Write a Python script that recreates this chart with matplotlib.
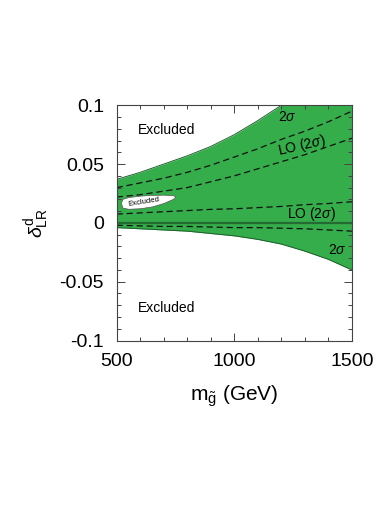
import numpy as np
import matplotlib
matplotlib.use("Agg")
from matplotlib import pyplot as plt
from matplotlib.ticker import MultipleLocator

plt.rcParams['font.family'] = ['Liberation Sans', 'DejaVu Sans']
plt.rcParams['mathtext.fontset'] = 'custom'
plt.rcParams['mathtext.rm'] = 'Liberation Sans'
plt.rcParams['mathtext.it'] = 'Liberation Sans:italic'

# gluino mass (GeV)
m_gluino = [500, 600, 700, 800, 900, 1000, 1100, 1200, 1300, 1400, 1500]

# 2 sigma allowed band
upper_2sig = [0.037, 0.043, 0.050, 0.057, 0.065, 0.075, 0.087, 0.100, 0.114, 0.129, 0.145]
lower_2sig = [-0.004, -0.005, -0.006, -0.007, -0.009, -0.011, -0.014, -0.018, -0.024, -0.031, -0.040]

# LO (2 sigma) dashed curves
lo_a = [0.030, 0.034, 0.038, 0.043, 0.049, 0.056, 0.063, 0.071, 0.078, 0.086, 0.095]
lo_b = [0.022, 0.024, 0.027, 0.030, 0.035, 0.040, 0.046, 0.052, 0.058, 0.065, 0.072]
lo_c = [0.0075, 0.0085, 0.0095, 0.0105, 0.0115, 0.012, 0.013, 0.014, 0.0155, 0.0165, 0.018]
lo_d = [-0.002, -0.0025, -0.003, -0.003, -0.0035, -0.004, -0.004, -0.0045, -0.005, -0.006, -0.007]

# small excluded island
island_m = [518, 525, 550, 600, 650, 700, 740, 750]
island_top = [0.017, 0.0205, 0.022, 0.0232, 0.0238, 0.024, 0.0235, 0.0225]
island_bot = [0.017, 0.0130, 0.0120, 0.0125, 0.0140, 0.0170, 0.0205, 0.0225]

yticks = [-0.1, -0.05, 0, 0.05, 0.1]
ytick_labels = ['-0.1', '-0.05', '0', '0.05', '0.1']
xticks = [500, 1000, 1500]

green = '#35ad4a'

fig = plt.figure(figsize=(3.9, 5.05), dpi=100)
ax = fig.add_axes([0.299, 0.3257, 0.6033, 0.4658])

ax.fill_between(m_gluino, lower_2sig, upper_2sig, color=green, lw=0)
ax.plot(m_gluino, upper_2sig, color='#1d5f2b', lw=0.7)
ax.plot(m_gluino, lower_2sig, color='#1d5f2b', lw=0.7)
ax.axhline(0, color='#236b33', lw=1.6)

for curve in [lo_a, lo_b, lo_c, lo_d]:
    ax.plot(m_gluino, curve, color='#111111', lw=0.9, dashes=(5, 3))

ax.fill_between(island_m, island_bot, island_top, color='white', lw=0.5, edgecolor='#555555')

ax.text(713, 0.079, 'Excluded', fontsize=10, ha='center', va='center')
ax.text(713, -0.0725, 'Excluded', fontsize=10, ha='center', va='center')
ax.text(615, 0.0175, 'Excluded', fontsize=5.5, ha='center', va='center', rotation=9)
ax.text(1225, 0.090, r'2$\sigma$', fontsize=10, ha='center', va='center')
ax.text(1285, 0.066, r'LO (2$\sigma$)', fontsize=10, ha='center', va='center', rotation=13)
ax.text(1330, 0.0075, r'LO (2$\sigma$)', fontsize=10, ha='center', va='center')
ax.text(1436, -0.023, r'2$\sigma$', fontsize=10, ha='center', va='center')

ax.set_xlim(500, 1500)
ax.set_ylim(-0.1, 0.1)
ax.set_xticks(xticks)
ax.set_xticklabels([str(x) for x in xticks])
ax.set_yticks(yticks)
ax.set_yticklabels(ytick_labels)
ax.xaxis.set_minor_locator(MultipleLocator(100))
ax.yaxis.set_minor_locator(MultipleLocator(0.01))
ax.tick_params(which='both', direction='in', top=True, right=True, color='#444444', width=0.7)
ax.tick_params(which='major', length=6, labelsize=14, pad=9)
ax.tick_params(which='minor', length=3)
for sp in ax.spines.values():
    sp.set_linewidth(0.8)
    sp.set_color('#444444')

ax.set_xlabel(r'$\mathrm{m}_{\tilde{\mathrm{g}}}$ (GeV)', fontsize=15, labelpad=10)
ax.set_ylabel(r'$\delta^{\mathrm{d}}_{\mathrm{LR}}$', fontsize=14, labelpad=6)

fig.savefig('out.png', dpi=100)
